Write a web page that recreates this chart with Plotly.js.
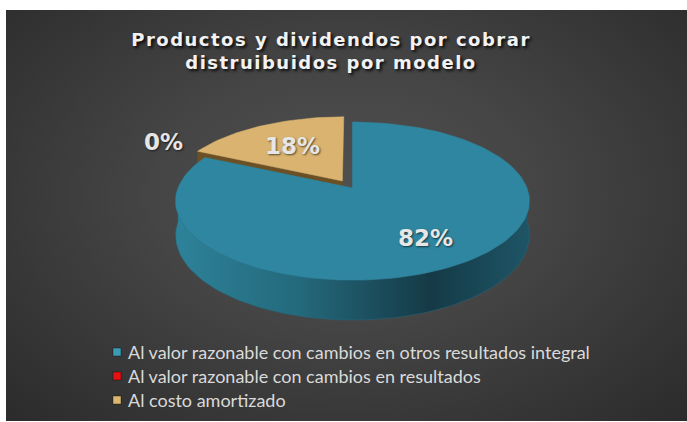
<!DOCTYPE html>
<html>
<head>
<meta charset="utf-8">
<script src="https://cdn.plot.ly/plotly-3.0.1.min.js"></script>
<style>
  html, body { margin: 0; padding: 0; background: #ffffff; }
  #wrap { position: relative; width: 687px; height: 422px; background: #ffffff; overflow: hidden; }
  #bg { position: absolute; left: 6px; top: 10px; width: 681px; height: 411px;
        background: radial-gradient(ellipse at 50% 45%, #515151 0%, #454545 40%, #2b2b2b 100%); }
  #chart { position: absolute; left: 0; top: 0; width: 687px; height: 422px; }
  .gtitle { letter-spacing: 1.5px; }
</style>
</head>
<body>
<div id="wrap"><div id="bg"></div><div id="chart"></div></div>
<script>
// ---- data ----
const categories = [
  'Al valor razonable con cambios en otros resultados integral',
  'Al valor razonable con cambios en resultados',
  'Al costo amortizado'
];
const values = [82, 0, 18];
const pctLabels = ['82%', '0%', '18%'];
const titleText = 'Productos y dividendos por cobrar<br>distruibuidos por modelo';

// ---- style ----
const topColors = ['#2e86a0', '#e00000', '#d9b36f'];
const sideColors = ['#22687c', '#8a0000', '#6b5025'];
const legendColors = ['#3b9bb6', '#e81010', '#d8b670'];
const explode = [0, 0.11, 0.11];
const labelRadius = [0.7, 1.2, 0.6];
const labelYShift = [0, 7, 0];

// 3D projection geometry (pixel space)
const CX = 352.5, CY = 188, A = 174.5, B = 76.9, PERSP = 0.165, DEPTH = 33.4;
function proj(u, v, z) {
  const den = 1 + PERSP * v;
  return [CX + A * u / den, CY - B * v / den + z * DEPTH / den];
}
const rad = d => d * Math.PI / 180;

const total = values.reduce((a, b) => a + b, 0);
const slices = [];
let cum = 0;
values.forEach((val, i) => {
  const s = cum / total * 360, e = (cum + val) / total * 360;
  cum += val;
  const m = (s + e) / 2;
  slices.push({ i, s, e, m, ou: explode[i] * Math.sin(rad(m)), ov: explode[i] * Math.cos(rad(m)) });
});

function arcPts(sl, a0, a1, z, r) {
  const pts = [];
  const n = Math.max(2, Math.ceil(Math.abs(a1 - a0) / 2));
  for (let k = 0; k <= n; k++) {
    const a = rad(a0 + (a1 - a0) * k / n);
    pts.push(proj(sl.ou + r * Math.sin(a), sl.ov + r * Math.cos(a), z));
  }
  return pts;
}
function poly(pts, color, extra) {
  const x = pts.map(p => p[0]), y = pts.map(p => p[1]);
  x.push(x[0]); y.push(y[0]);
  return Object.assign({
    type: 'scatter', mode: 'lines', x, y, fill: 'toself', fillcolor: color,
    line: { width: 0.5, color: color }, hoverinfo: 'skip', showlegend: false
  }, extra || {});
}

const traces = [];
const order = slices.filter(sl => values[sl.i] > 0).sort((a, b) => Math.cos(rad(b.m)) - Math.cos(rad(a.m)));
order.forEach(sl => {
  const vtx0 = proj(sl.ou, sl.ov, 0), vtx1 = proj(sl.ou, sl.ov, 1);
  [[sl.s, Math.sin(rad(sl.s)) < -1e-6], [sl.e, Math.sin(rad(sl.e)) > 1e-6]].forEach(([ang, vis]) => {
    if (!vis) return;
    const a = rad(ang);
    const p0 = proj(sl.ou + Math.sin(a), sl.ov + Math.cos(a), 0);
    const p1 = proj(sl.ou + Math.sin(a), sl.ov + Math.cos(a), 1);
    traces.push(poly([vtx0, p0, p1, vtx1], sideColors[sl.i]));
  });
  const a0 = Math.max(sl.s, 90), a1 = Math.min(sl.e, 270);
  if (a1 > a0) {
    const pts = arcPts(sl, a0, a1, 0, 1).concat(arcPts(sl, a1, a0, 1, 1));
    const extra = sl.i === 0 ? {
      fillgradient: { type: 'horizontal',
        colorscale: [[0, '#2d8299'], [0.35, '#24697c'], [0.72, '#153a46'], [1, '#1e5566']] }
    } : {};
    traces.push(poly(pts, sideColors[sl.i], extra));
  }
  const topPts = [vtx0].concat(arcPts(sl, sl.s, sl.e, 0, 1));
  traces.push(poly(topPts, topColors[sl.i]));
});

// legend markers
const legY = [352, 376, 400];
traces.push({
  type: 'scatter', mode: 'markers', x: categories.map(() => 117), y: legY,
  marker: { symbol: 'square', size: 8, color: legendColors, line: { width: 1, color: 'rgba(0,0,0,0.35)' } },
  hoverinfo: 'skip', showlegend: false
});

const annotations = [];
slices.forEach(sl => {
  const r = labelRadius[sl.i];
  const a = rad(sl.m);
  const p = proj(sl.ou + r * Math.sin(a), sl.ov + r * Math.cos(a), 0);
  annotations.push({
    x: p[0], y: p[1], xref: 'x', yref: 'y', text: pctLabels[sl.i], showarrow: false,
    xanchor: 'center', yanchor: 'middle', yshift: labelYShift[sl.i],
    font: { family: 'DejaVu Sans', size: 23, weight: 'bold', color: '#e6e6e6', shadow: '1px 1px 2px rgba(0,0,0,0.6)' }
  });
});
categories.forEach((c, i) => {
  annotations.push({
    x: 126, y: legY[i], xref: 'x', yref: 'y', text: c, showarrow: false,
    xanchor: 'left', yanchor: 'middle',
    font: { family: 'Lato', size: 18, color: '#dadada' }
  });
});

const layout = {
  width: 687, height: 422,
  margin: { l: 0, r: 0, t: 0, b: 0, pad: 0 },
  paper_bgcolor: 'rgba(0,0,0,0)', plot_bgcolor: 'rgba(0,0,0,0)',
  showlegend: false,
  title: {
    text: titleText, x: 331 / 687, xanchor: 'center', y: 1 - 46 / 422, yanchor: 'top',
    font: { family: 'DejaVu Sans', size: 18, weight: 'bold', color: '#f2f2f2', shadow: '2px 2px 3px rgba(0,0,0,0.85)' }
  },
  xaxis: { range: [0, 687], visible: false, fixedrange: true },
  yaxis: { range: [422, 0], visible: false, fixedrange: true },
  annotations
};

Plotly.newPlot('chart', traces, layout, { staticPlot: true, displayModeBar: false });
</script>
</body>
</html>
